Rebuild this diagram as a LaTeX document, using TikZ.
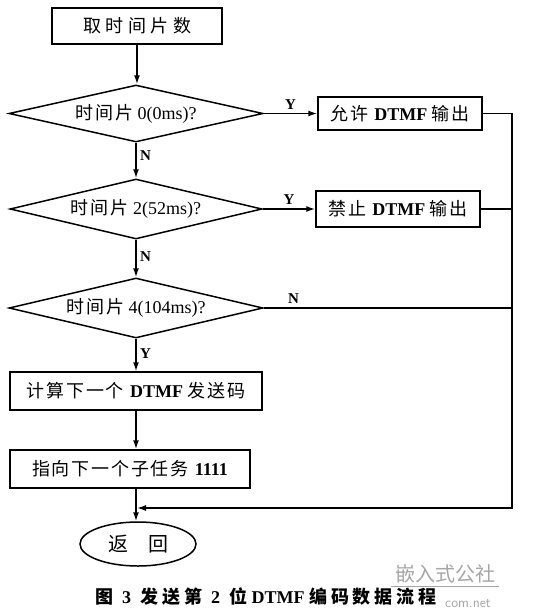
\documentclass[tikz,border=0pt]{standalone}
\usepackage{fontspec}
\setmainfont{Liberation Serif}
\newfontfamily\cjk{Noto Sans CJK SC}[LetterSpace=10]
\newfontfamily\cjkwide{Noto Sans CJK SC}[LetterSpace=25]
\newfontfamily\capfont{Noto Sans CJK SC}[LetterSpace=22]
\newfontfamily\wmfont{Noto Sans CJK SC}
\usetikzlibrary{shapes.geometric,arrows.meta}
\begin{document}
\begin{tikzpicture}[x=1pt,y=-1pt,
  every node/.style={font=\fontsize{18}{20}\selectfont},
  box/.style={draw,line width=1.5pt,rectangle,inner sep=0pt},
  dec/.style={draw,line width=1.5pt,diamond,aspect=4.4,inner sep=0pt},
  term/.style={draw,line width=1.5pt,ellipse,inner sep=0pt},
  conn/.style={line width=1.5pt},
  arr/.style={line width=1.5pt,-{Latex[length=9pt,width=6pt]}},
  lbl/.style={font=\fontsize{15}{17}\selectfont\bfseries}]
\useasboundingbox (0,0) rectangle (540,614);

\node[box,minimum width=170pt,minimum height=36pt] (start) at (137,26) {\cjkwide 取时间片数};
\node[dec,minimum width=254pt,minimum height=57pt] (d1) at (136,113.5) {{\cjk 时间片} 0(0ms)?};
\node[box,minimum width=164pt,minimum height=33pt] (allow) at (400,113.5) {{\cjk 允许} \textbf{DTMF} {\cjk 输出}};
\node[dec,minimum width=252pt,minimum height=60pt] (d2) at (136,209) {{\cjk 时间片} 2(52ms)?};
\node[box,minimum width=164pt,minimum height=36pt] (forbid) at (398,209) {{\cjk 禁止} \textbf{DTMF} {\cjk 输出}};
\node[dec,minimum width=254pt,minimum height=60pt] (d3) at (136,308) {{\cjk 时间片} 4(104ms)?};
\node[box,minimum width=252pt,minimum height=38pt] (calc) at (136,391) {{\cjk 计算下一个} \textbf{DTMF} {\cjk 发送码}};
\node[box,minimum width=240pt,minimum height=38pt] (next) at (130,469) {{\cjk 指向下一个子任务} \textbf{1111}};
\node[term,minimum width=116pt,minimum height=44pt,font=\fontsize{20}{22}\selectfont] (ret) at (138,544) {\cjk 返\quad 回};

\coordinate (corner) at (512,508);
\coordinate (join) at (137,508);

\draw[arr] (start.south) -- (start.south |- d1.north);
\draw[arr] (d1.east) -- node[lbl,above,pos=0.5] {Y} (allow.west);
\draw[arr] (d1.south) -- node[lbl,right,pos=0.35] {N} (d2.north);
\draw[arr] (d2.east) -- node[lbl,above,pos=0.5] {Y} (forbid.west);
\draw[arr] (d2.south) -- node[lbl,right,pos=0.45] {N} (d3.north);
\draw[conn] (d3.east) -- node[lbl,above,pos=0.12] {N} (d3.east -| corner);
\draw[arr] (d3.south) -- node[lbl,right,pos=0.45] {Y} (d3.south |- calc.north);
\draw[arr] (calc.south) -- (calc.south |- next.north);
\draw[arr] (calc.south |- next.south) -- (calc.south |- ret.north);
\draw[conn] (forbid.east) -- (forbid.east -| corner);
\draw[arr] (allow.east) -| (corner) -- (join);

\node[font=\fontsize{18}{20}\selectfont\bfseries] (cap) at (266,597)
  {{\capfont 图}\ \ 3\ \ {\capfont 发送第}\ \ 2\ \ {\capfont 位}\ DTMF\ {\capfont 编码数据流程}};

\node[text=black!35,font=\fontsize{20}{22}\selectfont\wmfont] (wm) at (445,574) {嵌入式公社};
\draw[black!35,line width=1pt] (wm.south west) -- (wm.south east);
\node[text=black!35,font=\fontsize{14}{16}\sffamily] (wm2) at (468,604) {com.net};
\end{tikzpicture}
\end{document}
